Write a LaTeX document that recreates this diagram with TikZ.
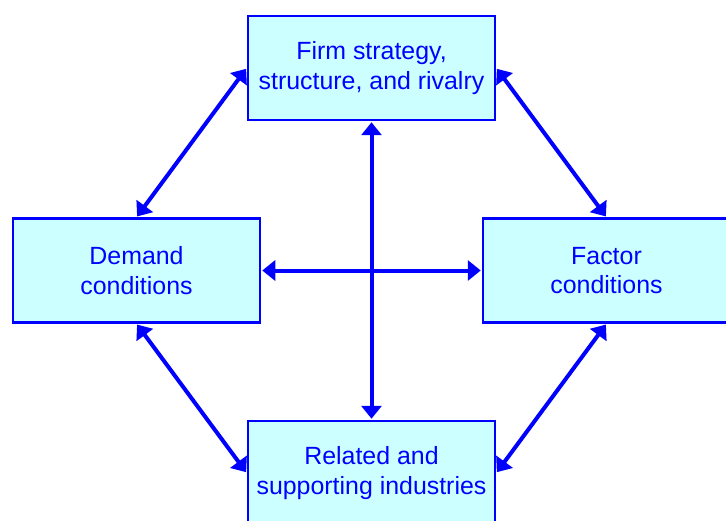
\documentclass[tikz,border=0pt]{standalone}
\usepackage{fontspec}
\setmainfont{Liberation Sans}
\usepackage{xcolor}
\usepackage{tikz}
\usetikzlibrary{positioning,arrows.meta}
\definecolor{boxfill}{HTML}{CCFFFF}
\definecolor{pblue}{HTML}{0000FF}
\tikzset{
    force/.style={draw=pblue, fill=boxfill, line width=2.5bp, minimum width=247bp, minimum height=104bp,
        align=center, text=pblue, font=\fontsize{25}{30}\selectfont},
    link/.style={pblue, line width=4bp, {Triangle[length=13bp,width=20bp]}-{Triangle[length=13bp,width=20bp]}, shorten <=1bp, shorten >=1bp}
}

\begin{document}
\begin{tikzpicture}[x=1bp, y=-1bp]
    \useasboundingbox (0,0) rectangle (726,521);
    % the four determinants
    \node[force] (firm) at (371.5,68) {Firm strategy,\\structure, and rivalry};
    \node[force] (demand) at (136.5,270.5) {Demand\\conditions};
    \node[force] (factor) at (606.5,270.5) {Factor\\conditions};
    \node[force] (related) at (371.5,473) {Related and\\supporting industries};

    % links
    \draw[link] (firm.south) -- (related.north);
    \draw[link] (demand.east) -- (factor.west);
    \draw[link] (demand.north) -- (firm.west);
    \draw[link] (firm.east) -- (factor.north);
    \draw[link] (demand.south) -- (related.west);
    \draw[link] (factor.south) -- (related.east);
\end{tikzpicture}
\end{document}
